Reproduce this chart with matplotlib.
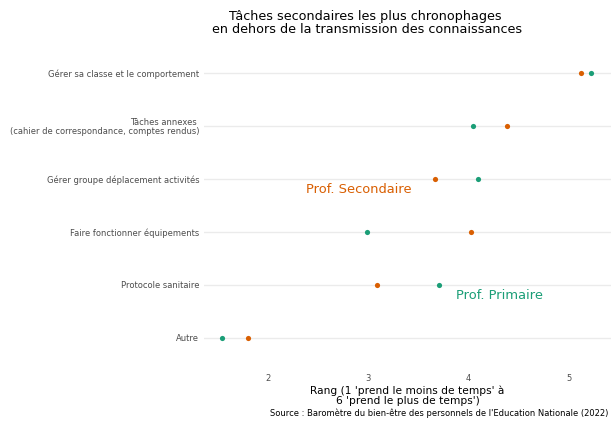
import matplotlib
matplotlib.use("Agg")
import matplotlib.pyplot as plt

categories = ["Gérer sa classe et le comportement",
              "Tâches annexes \n(cahier de correspondance, comptes rendus)",
              "Gérer groupe déplacement activités",
              "Faire fonctionner équipements",
              "Protocole sanitaire",
              "Autre"]
secondaire = [5.12, 4.38, 3.66, 4.02, 3.09, 1.80]
primaire = [5.22, 4.04, 4.09, 2.99, 3.70, 1.54]
xticks = [2, 3, 4, 5]

c_sec = "#d95f02"
c_pri = "#1b9e77"

fig = plt.figure(figsize=(6.11, 4.21), dpi=100)
ax = fig.add_axes([204/611, 1-368/421, (611-204)/611, (368-50)/421])

ypos = list(range(len(categories)))[::-1]
for y in ypos:
    ax.axhline(y, color="#ebebeb", lw=1, zorder=0)
ax.scatter(secondaire, ypos, s=14, color=c_sec, zorder=3, linewidths=0)
ax.scatter(primaire, ypos, s=14, color=c_pri, zorder=3, linewidths=0)

ax.set_xlim(1.36, 5.42)
ax.set_ylim(-0.57, 5.43)
ax.set_yticks(ypos)
ax.set_yticklabels(categories, fontsize=6.0, color="#4d4d4d", linespacing=1.0)
ax.set_xticks(xticks)
ax.set_xticklabels([str(t) for t in xticks], fontsize=6.0, color="#4d4d4d")
ax.tick_params(axis="y", length=0, pad=3.5)
ax.tick_params(axis="x", length=0, pad=4)
for s in ax.spines.values():
    s.set_visible(False)

ax.set_xlabel("Rang (1 'prend le moins de temps' à\n6 'prend le plus de temps')",
              fontsize=7.7, labelpad=2, linespacing=1.0)

ax.text(2.38, ypos[2] - 0.21, "Prof. Secondaire", color=c_sec, fontsize=9.4, va="center")
ax.text(3.87, ypos[4] - 0.21, "Prof. Primaire", color=c_pri, fontsize=9.4, va="center")

fig.text(365/611, 1-23/421, "Tâches secondaires les plus chronophages\n en dehors de la transmission des connaissances",
         ha="center", va="center", fontsize=9.2, linespacing=1.0)
fig.text(608/611, 1-413/421, "Source : Baromètre du bien-être des personnels de l'Education Nationale (2022)",
         ha="right", va="center", fontsize=6.0)

fig.savefig("out.png", dpi=100)
